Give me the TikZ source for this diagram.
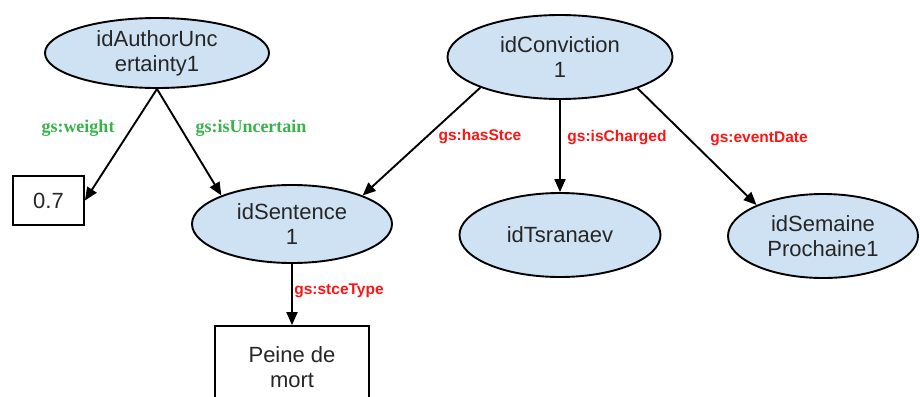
\documentclass[tikz,border=0pt]{standalone}
\usepackage{fontspec}
\setmainfont{Liberation Sans}
\newfontfamily\serifbold{Liberation Serif}
\usetikzlibrary{shapes.geometric,arrows.meta}
\definecolor{nodeblue}{HTML}{CFE2F3}
\definecolor{lblgreen}{RGB}{56,178,74}
\definecolor{lblred}{RGB}{255,20,20}
\tikzset{
  ent/.style={ellipse, draw=black, line width=1.9pt, fill=nodeblue, inner sep=0pt,
    align=center, font=\fontsize{22}{25}\selectfont, text=black!85},
  lit/.style={rectangle, draw=black, line width=1.9pt, fill=white, inner sep=0pt,
    align=center, font=\fontsize{22}{25}\selectfont, text=black!85},
  rel/.style={-{Triangle[length=13pt,width=11pt]}, line width=1.9pt, black},
  glbl/.style={font=\serifbold\bfseries\fontsize{18}{20}\selectfont, text=lblgreen, inner sep=0pt},
  rlbl/.style={font=\bfseries\fontsize{15.5}{18}\selectfont, text=lblred, inner sep=0pt},
}
\begin{document}
\begin{tikzpicture}[x=1pt,y=-1pt]
\clip (0,0) rectangle (920,396);
\fill[white] (0,0) rectangle (920,396);

\node[ent, minimum width=224pt, minimum height=70pt] (auth) at (157,53) {idAuthorUnc\\ertainty1};
\node[ent, minimum width=225pt, minimum height=84pt] (conv) at (560,57) {idConviction\\1};
\node[ent, minimum width=200pt, minimum height=78pt] (sent) at (292,224) {idSentence\\1};
\node[ent, minimum width=201pt, minimum height=84pt] (tsr) at (560,235) {idTsranaev};
\node[ent, minimum width=190pt, minimum height=84pt] (sem) at (823,236) {idSemaine\\Prochaine1};
\node[lit, minimum width=71pt, minimum height=49pt] (val) at (48.5,200.5) {0.7};
\node[lit, minimum width=154pt, minimum height=82pt] (peine) at (292,367) {Peine de\\mort};

\draw[rel] (auth.south) -- (val.east);
\draw[rel] (auth.south) -- (sent.158);
\draw[rel] (conv.201) -- (sent.22);
\draw[rel] (conv.south) -- (tsr.north);
\draw[rel] (conv.-22) -- (sem.155);
\draw[rel] (sent.south) -- (peine.north);

\node[glbl] (l1) at (78,128) {gs:weight};
\node[glbl] (l2) at (251,128) {gs:isUncertain};
\node[rlbl] (l3) at (480,137) {gs:hasStce};
\node[rlbl] (l4) at (617,138) {gs:isCharged};
\node[rlbl] (l5) at (759,139) {gs:eventDate};
\node[rlbl] (l6) at (339,291) {gs:stceType};
\end{tikzpicture}
\end{document}
